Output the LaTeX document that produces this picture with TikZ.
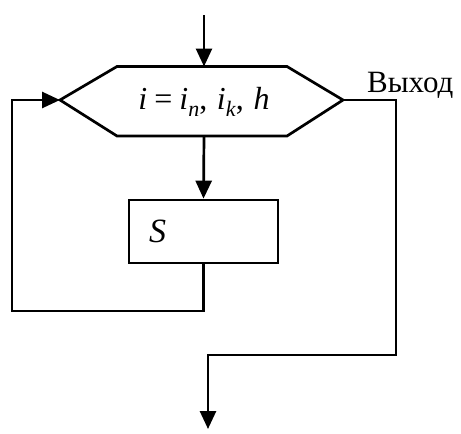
\documentclass[tikz,border=0pt]{standalone}
\usepackage{fontspec}
\setmainfont{Liberation Serif}
\usetikzlibrary{arrows.meta,calc}
\tikzset{
  ln/.style={line width=2.7pt, line join=miter},
  arr/.style={ln, -{Triangle[length=18pt,width=16pt]}},
  txt/.style={inner sep=0pt, font=\fontsize{32}{34}\selectfont},
}
\newcommand{\sbs}[1]{\raisebox{-0.22em}{\fontsize{22}{24}\selectfont\textit{#1}}}
\begin{document}
\begin{tikzpicture}[x=1pt,y=-1pt]
\useasboundingbox (0,0) rectangle (461,434);
% hexagon
\coordinate (hl) at (60,100);
\coordinate (hr) at (343,100);
\coordinate (ht) at (204,66.5);
\coordinate (hb) at (204,136);
\draw[ln] (hl) -- (117,66.5) -- (287,66.5) -- (hr) -- (287,136) -- (117,136) -- cycle;
\node[txt, anchor=base] (f) at (204,109) {\textit{i}\hspace{0.22em}=\hspace{0.22em}\textit{i}\sbs{n},\hspace{0.3em}\textit{i}\sbs{k},\hspace{0.3em}\textit{h}};
% process box
\node[ln, draw, minimum width=149pt, minimum height=63pt, inner sep=0pt] (S) at (203.5,231.5) {};
\node[inner sep=0pt, anchor=base west, font=\fontsize{34}{36}\selectfont] (Slbl) at (149,242) {\textit{S}};
% entry
\coordinate (in) at (204,15);
\draw[arr] (in) -- (ht);
\draw[arr] (hb) -- (S.north);
% loop back
\coordinate (l1) at (12,311);
\draw[arr] (S.south) |- (l1) |- (hl);
% exit
\coordinate (e1) at (396,355);
\coordinate (out) at (208,429);
\draw[arr] (hr) -| (e1) -| (out);
\node[inner sep=0pt, anchor=base west, font=\fontsize{31}{33}\selectfont] (exitlbl) at (367,92) {Выход};
\end{tikzpicture}
\end{document}
